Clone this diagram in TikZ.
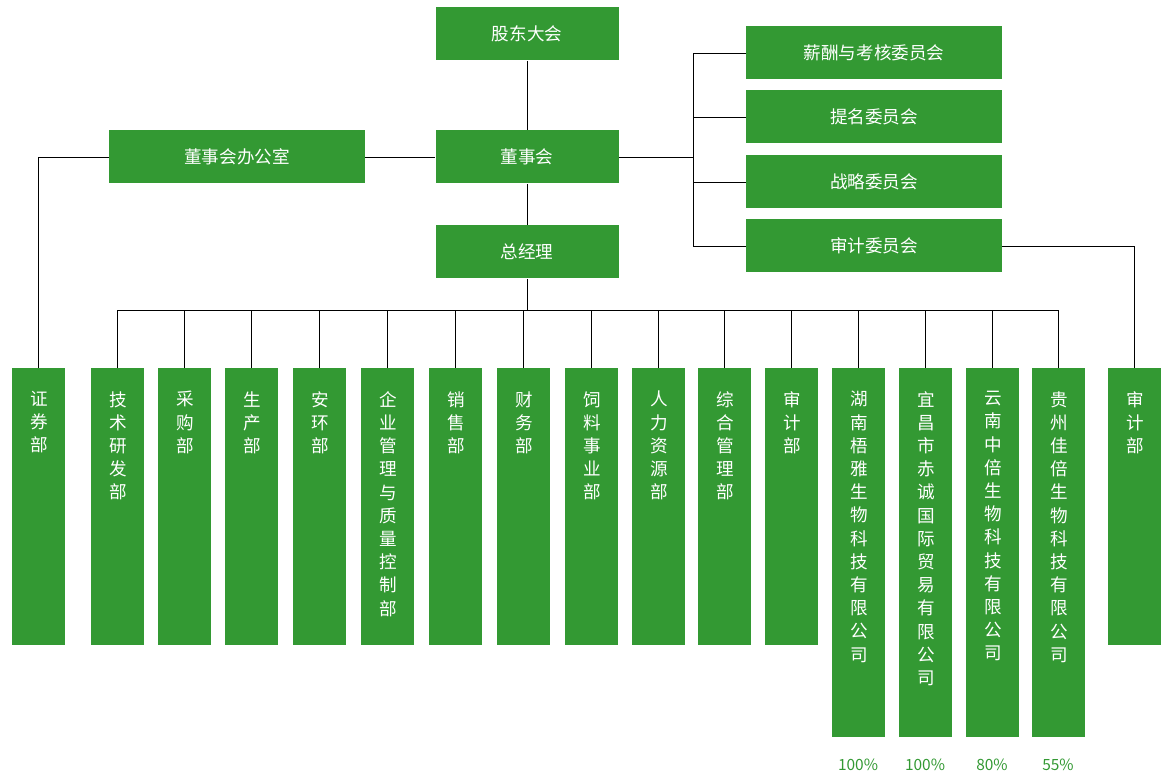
\documentclass[tikz,border=0pt]{standalone}
\usepackage{fontspec}
\setmainfont{Noto Sans CJK SC}
\XeTeXlinebreaklocale "zh"
\XeTeXlinebreakskip=0pt plus 1pt
\usetikzlibrary{positioning,calc}
\definecolor{boxgreen}{HTML}{339933}
\tikzset{x=0.025cm, y=-0.025cm,
        box/.style={ % green boxes
            fill=boxgreen, draw=none, text=white, inner sep=0pt,
            minimum width=256*0.025cm, minimum height=53*0.025cm,
            font=\fontsize{12.5}{15}\selectfont},
        tall/.style={ % vertical boxes
            fill=boxgreen, draw=none, minimum width=53*0.025cm,
            inner sep=0pt, anchor=north},
        vtext/.style={ % stacked characters
            text=white, anchor=north, inner sep=0pt, text width=1.05em,
            align=center, font=\fontsize{12.5}{16.5}\selectfont},
        pct/.style={text=boxgreen, font=\fontsize{11}{13}\selectfont},
        link/.style={draw, semithick}
        }
\begin{document}
\begin{tikzpicture}
    \useasboundingbox (0,0) rectangle (1172,780);
    \node[box, minimum width=183*0.025cm] (gd)  at (527,34)  {股东大会};
    \node[box, minimum width=183*0.025cm] (dsh) at (527,157) {董事会};
    \node[box, minimum width=183*0.025cm] (zjl) at (527,252) {总经理};
    \node[box] (bgs) at (237,157) {董事会办公室};
    \node[box] (xc) at (874,53)  {薪酬与考核委员会};
    \node[box] (tm) at (874,117) {提名委员会};
    \node[box] (zl) at (874,182) {战略委员会};
    \node[box] (sj) at (874,246) {审计委员会};

    \draw[link] (gd) -- (dsh);
    \draw[link] (dsh) -- (zjl);
    \draw[link] (bgs) -- (dsh);
    \draw[link] (dsh.east) -- (693,157) coordinate (cb);
    \draw[link] (xc.west) -| (sj.west -| cb) -- (sj.west);
    \draw[link] (tm.west) -- (tm.west -| cb);
    \draw[link] (zl.west) -- (zl.west -| cb);
    \draw[link] (zjl.south) -- (527,310) coordinate (bus);

    % departments: name / x / text / height
    \foreach \n/\x/\t/\h in {
        zq/38/证券部/277, js/117/技术研发部/277, cg/184/采购部/277,
        sc/251/生产部/277, ah/319/安环部/277, qy/387/企业管理与质量控制部/277,
        xs/455/销售部/277, cw/523/财务部/277, sl/591/饲料事业部/277,
        rl/658/人力资源部/277, zh/724/综合管理部/277, sjb/791/审计部/277,
        hn/858/湖南梧雅生物科技有限公司/369, yc/925/宜昌市赤诚国际贸易有限公司/369,
        yn/992/云南中倍生物科技有限公司/369, gz/1058/贵州佳倍生物科技有限公司/369,
        sj2/1134/审计部/277} {
        \node[tall, minimum height=\h*0.025cm] (\n) at (\x,368) {};
        \node[vtext] at ($(\n.north)+(0,23)$) {\t};
    }
    \foreach \n in {js,cg,sc,ah,qy,xs,cw,sl,rl,zh,sjb,hn,yc,yn,gz}
        \draw[link] (\n.north) -- (\n.north |- bus);
    \draw[link] (js.north |- bus) -- (gz.north |- bus);
    \draw[link] (bgs.west) -| (zq.north);
    \draw[link] (sj.east) -| (sj2.north);

    \node[pct] at (858,765) {100\%};
    \node[pct] at (925,765) {100\%};
    \node[pct] at (992,765) {80\%};
    \node[pct] at (1058,765) {55\%};
\end{tikzpicture}
\end{document}
